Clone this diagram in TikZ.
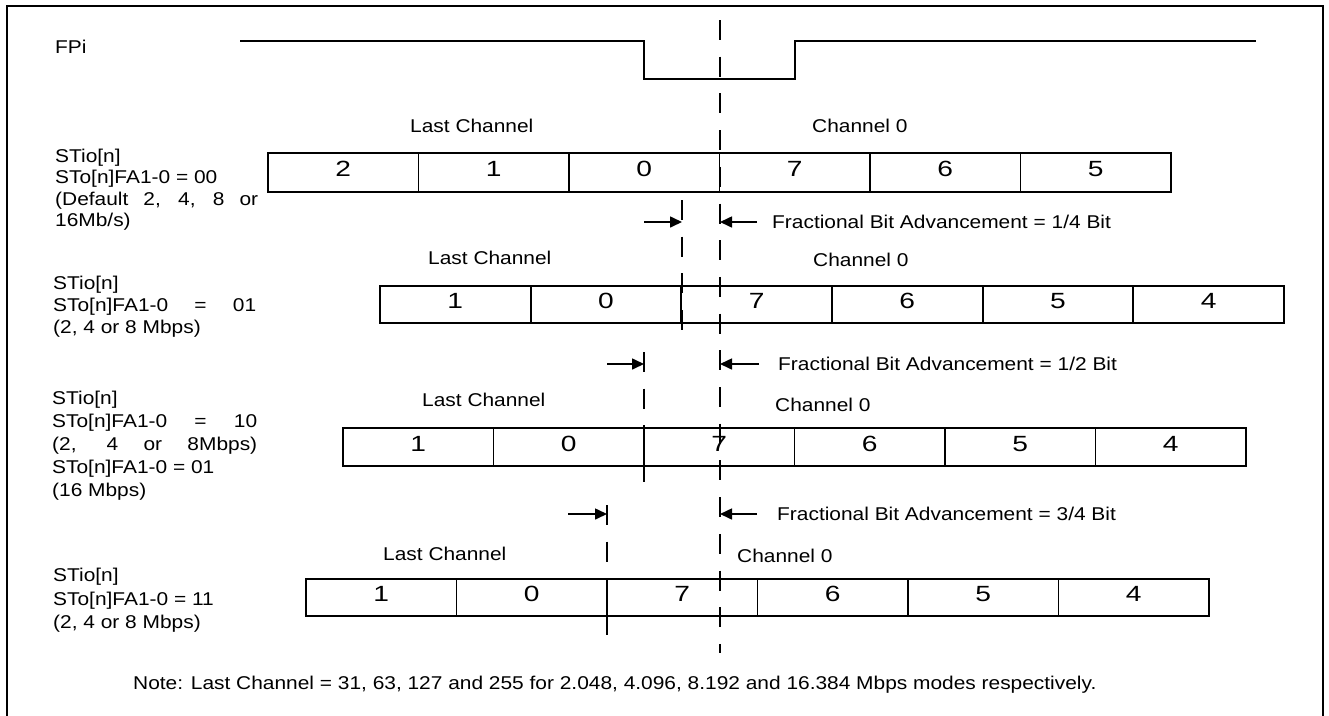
\documentclass[tikz,border=0pt]{standalone}
\usepackage{fontspec}
\setmainfont{Liberation Sans}[FakeStretch=1.13]
\newfontfamily\digitfont{Liberation Sans}[FakeStretch=1.28]
\usetikzlibrary{arrows.meta}
\begin{document}
\begin{tikzpicture}[x=1pt,y=-1pt,
  txt/.style={inner sep=0pt,font=\fontsize{18.5}{22}\selectfont,text height=13pt,text depth=0pt,anchor=west},
  multi/.style={inner sep=0pt,align=left,anchor=north west},
  cell/.style={draw,line width=1.9pt,inner sep=0pt,minimum width=150.5pt,minimum height=38pt,font={\digitfont\fontsize{22}{24}\selectfont},text height=16pt,text depth=8pt},
  wave/.style={line width=1.9pt},
  guide/.style={line width=1.9pt,dash pattern=on 20pt off 16.7pt},
  arr/.style={line width=1.6pt,-{Triangle[length=12pt,width=11pt]}},
  frame/.style={line width=2.2pt}]
\fill[white] (0,0) rectangle (1329,715);
\useasboundingbox (0,0) rectangle (1329,715);
\draw[frame] (7,6) rectangle (1323,730);

% FPi waveform
\node[txt] (fpi) at (55,47) {FPi};
\coordinate (w0) at (240,41);
\coordinate (w1) at (644,41);
\coordinate (w2) at (644,79);
\coordinate (w3) at (795,79);
\coordinate (w4) at (795,41);
\coordinate (w5) at (1256,41);
\draw[wave] (w0) -- (w1) -- (w2) -- (w3) -- (w4) -- (w5);

% row labels
\node[multi,font=\fontsize{18.5}{21.3}\selectfont] (lab1) at (55,149)
  {STio[n]\\STo[n]FA1-0 = 00\\\makebox[203pt][s]{(Default 2, 4, 8 or}\\16Mb/s)};
\node[multi,font=\fontsize{18.5}{22}\selectfont] (lab2) at (53,276)
  {STio[n]\\\makebox[203pt][s]{STo[n]FA1-0 = 01}\\(2, 4 or 8 Mbps)};
\node[multi,font=\fontsize{18.5}{23}\selectfont] (lab3) at (52,391)
  {STio[n]\\\makebox[205pt][s]{STo[n]FA1-0 = 10}\\\makebox[205pt][s]{(2, 4 or 8Mbps)}\\STo[n]FA1-0 = 01\\(16 Mbps)};
\node[multi,font=\fontsize{18.5}{23.5}\selectfont] (lab4) at (53,568)
  {STio[n]\\STo[n]FA1-0 = 11\\(2, 4 or 8 Mbps)};

% channel captions
\node[txt] (lc1) at (410,126) {Last Channel};
\node[txt] (ch1) at (812,126) {Channel 0};
\node[txt] (lc2) at (428,258) {Last Channel};
\node[txt] (ch2) at (813,260) {Channel 0};
\node[txt] (lc3) at (422,400) {Last Channel};
\node[txt] (ch3) at (775,405) {Channel 0};
\node[txt] (lc4) at (383,554) {Last Channel};
\node[txt] (ch4) at (737,556) {Channel 0};

% row 1 cells
\foreach \d [count=\i from 0] in {2,1,0,7,6,5}
  \node[cell,minimum height=39pt] (r1c\i) at (343.25+150.5*\i,172.5) {\d};
% row 2 cells
\foreach \d [count=\i from 0] in {1,0,7,6,5,4}
  \node[cell,minimum width=150.67pt,minimum height=37pt] (r2c\i) at (455.3+150.67*\i,304.5) {\d};
% row 3 cells
\foreach \d [count=\i from 0] in {1,0,7,6,5,4}
  \node[cell] (r3c\i) at (418.25+150.5*\i,447) {\d};
% row 4 cells
\foreach \d [count=\i from 0] in {1,0,7,6,5,4}
  \node[cell,minimum height=37pt] (r4c\i) at (381.25+150.5*\i,597.5) {\d};

% dashed guide lines
\coordinate (g0a) at (720,20);   \coordinate (g0b) at (720,653);
\coordinate (g1a) at (682,200);  \coordinate (g1b) at (682,341);
\coordinate (g2a) at (644,352);  \coordinate (g2b) at (644,494);
\coordinate (g3a) at (607,505);  \coordinate (g3b) at (607,648);
\draw[guide] (g0a) -- (g0b);
\draw[guide] (g1a) -- (g1b);
\draw[guide] (g2a) -- (g2b);
\draw[guide] (g3a) -- (g3b);

% advancement arrows
\coordinate (a1l) at (644,222); \coordinate (a1m) at (682,222);
\coordinate (a1r) at (757,222); \coordinate (a1c) at (720,222);
\coordinate (a2l) at (607,364); \coordinate (a2m) at (644,364);
\coordinate (a2r) at (759,364); \coordinate (a2c) at (720,364);
\coordinate (a3l) at (568,514); \coordinate (a3m) at (607,514);
\coordinate (a3r) at (757,514); \coordinate (a3c) at (720,514);
\draw[arr] (a1l) -- (a1m);
\draw[arr] (a1r) -- (a1c);
\draw[arr] (a2l) -- (a2m);
\draw[arr] (a2r) -- (a2c);
\draw[arr] (a3l) -- (a3m);
\draw[arr] (a3r) -- (a3c);
\node[txt] (f1) at (772,222) {Fractional Bit Advancement = 1/4 Bit};
\node[txt] (f2) at (778,364) {Fractional Bit Advancement = 1/2 Bit};
\node[txt] (f3) at (777,514) {Fractional Bit Advancement = 3/4 Bit};

% note
\node[txt] (note) at (133,683) {Note: Last Channel = 31, 63, 127 and 255 for 2.048, 4.096, 8.192 and 16.384 Mbps modes respectively.};
\end{tikzpicture}
\end{document}
